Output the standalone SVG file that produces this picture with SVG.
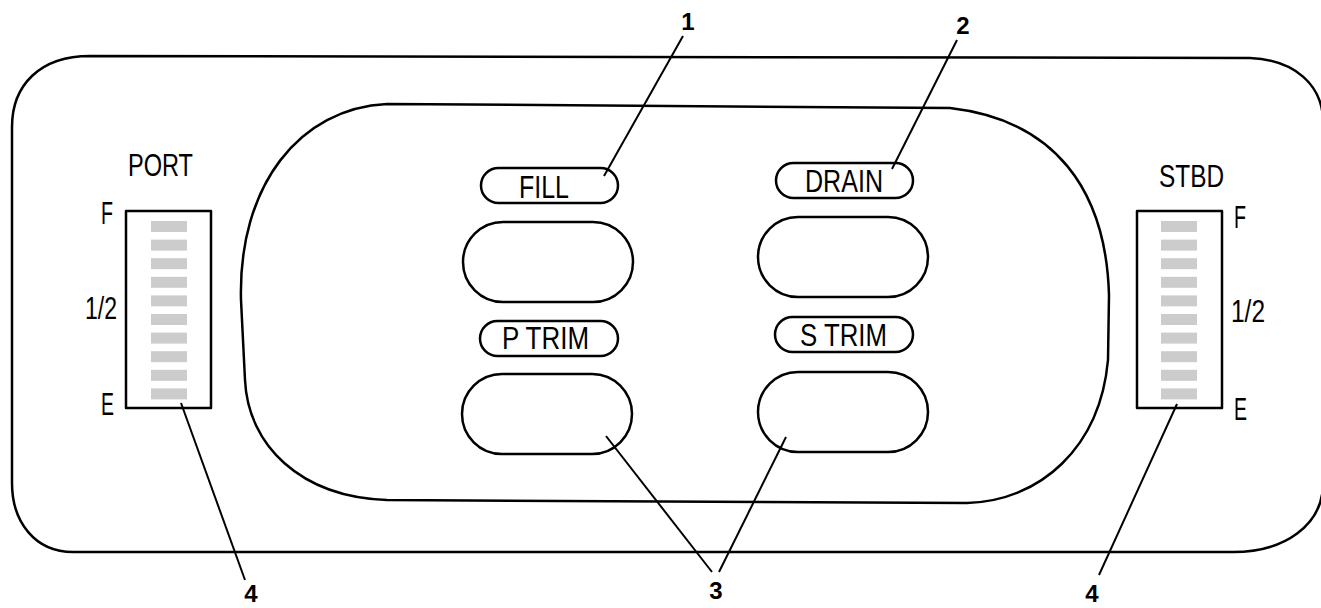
<svg xmlns="http://www.w3.org/2000/svg" width="1321" height="608" viewBox="0 0 1321 608">
<style>
.frame{fill:none;stroke:#000;stroke-width:2.5;stroke-linejoin:round}
.pill{fill:#fff;stroke:#000;stroke-width:2.5}
.lead{fill:none;stroke:#000;stroke-width:2}
.bar{fill:#cccccc}
.lbl{font-family:"Liberation Sans",Arial,sans-serif;font-size:32px;fill:#000}
.num{font-family:"Liberation Sans",Arial,sans-serif;font-size:24px;font-weight:bold;fill:#000;text-anchor:middle}
</style>
<rect width="1321" height="608" fill="#fff"/>
<g id="outer-frame">
<path class="frame" d="M90 56 L1250 58 C1295 60 1322 85 1323 120 L1323 485 C1322 525 1285 552 1233 552 L73 552 C35 552 12 522 12 483 L12 127 C12 85 40 56 90 56 Z"/>
</g>
<g id="inner-panel">
<path class="frame" d="M387 104 L950 108 C1055 120 1106 190 1109 295 L1108 360 C1100 448 1040 501 967 503 L387 500 C300 497 248 445 245 380 L241 300 C238 185 300 108 387 104 Z"/>
</g>
<g id="port-gauge">
<rect class="frame" x="126" y="211" width="85" height="197" fill="#fff"/>
<g class="bar">
<rect x="151" y="221" width="36" height="11"/>
<rect x="151" y="239.6" width="36" height="11"/>
<rect x="151" y="258.2" width="36" height="11"/>
<rect x="151" y="276.8" width="36" height="11"/>
<rect x="151" y="295.4" width="36" height="11"/>
<rect x="151" y="314" width="36" height="11"/>
<rect x="151" y="332.6" width="36" height="11"/>
<rect x="151" y="351.2" width="36" height="11"/>
<rect x="151" y="369.8" width="36" height="11"/>
<rect x="151" y="388.4" width="36" height="11"/>
</g>
<text class="lbl" x="128" y="176" textLength="65" lengthAdjust="spacingAndGlyphs">PORT</text>
<text class="lbl" x="101" y="224" textLength="12" lengthAdjust="spacingAndGlyphs">F</text>
<text class="lbl" x="85" y="319" textLength="32" lengthAdjust="spacingAndGlyphs">1/2</text>
<text class="lbl" x="101" y="415" textLength="13" lengthAdjust="spacingAndGlyphs">E</text>
</g>
<g id="stbd-gauge">
<rect class="frame" x="1137" y="211" width="85" height="197" fill="#fff"/>
<g class="bar">
<rect x="1161" y="221" width="36" height="11"/>
<rect x="1161" y="239.6" width="36" height="11"/>
<rect x="1161" y="258.2" width="36" height="11"/>
<rect x="1161" y="276.8" width="36" height="11"/>
<rect x="1161" y="295.4" width="36" height="11"/>
<rect x="1161" y="314" width="36" height="11"/>
<rect x="1161" y="332.6" width="36" height="11"/>
<rect x="1161" y="351.2" width="36" height="11"/>
<rect x="1161" y="369.8" width="36" height="11"/>
<rect x="1161" y="388.4" width="36" height="11"/>
</g>
<text class="lbl" x="1159" y="187" textLength="65" lengthAdjust="spacingAndGlyphs">STBD</text>
<text class="lbl" x="1234" y="228" textLength="12" lengthAdjust="spacingAndGlyphs">F</text>
<text class="lbl" x="1231" y="322" textLength="34" lengthAdjust="spacingAndGlyphs">1/2</text>
<text class="lbl" x="1234" y="420" textLength="13" lengthAdjust="spacingAndGlyphs">E</text>
</g>
<g id="fill-button">
<rect class="pill" x="481" y="168" width="137" height="35" rx="17.5"/>
<text class="lbl" x="519" y="198" textLength="50" lengthAdjust="spacingAndGlyphs">FILL</text>
</g>
<g id="fill-display">
<rect class="pill" x="463" y="222" width="170" height="80" rx="40"/>
</g>
<g id="ptrim-button">
<rect class="pill" x="480" y="321" width="138" height="35" rx="17.5"/>
<text class="lbl" x="502" y="349" textLength="87" lengthAdjust="spacingAndGlyphs">P TRIM</text>
</g>
<g id="ptrim-display">
<rect class="pill" x="462" y="374" width="170" height="80" rx="40"/>
</g>
<g id="drain-button">
<rect class="pill" x="776" y="163" width="137" height="35" rx="17.5"/>
<text class="lbl" x="805" y="192" textLength="78" lengthAdjust="spacingAndGlyphs">DRAIN</text>
</g>
<g id="drain-display">
<rect class="pill" x="758" y="217" width="170" height="80" rx="40"/>
</g>
<g id="strim-button">
<rect class="pill" x="775" y="317" width="138" height="35" rx="17.5"/>
<text class="lbl" x="800" y="346" textLength="87" lengthAdjust="spacingAndGlyphs">S TRIM</text>
</g>
<g id="strim-display">
<rect class="pill" x="758" y="372" width="170" height="80" rx="40"/>
</g>
<g id="connectors">
<line class="lead" x1="683" y1="36" x2="604" y2="176"/>
<line class="lead" x1="957" y1="40" x2="892" y2="169"/>
<line class="lead" x1="712" y1="572" x2="606" y2="436"/>
<line class="lead" x1="719" y1="572" x2="786" y2="437"/>
<line class="lead" x1="245" y1="580" x2="181" y2="403"/>
<line class="lead" x1="1099" y1="575" x2="1177" y2="404"/>
</g>
<g id="callouts">
<text class="num" x="688" y="30">1</text>
<text class="num" x="963" y="34">2</text>
<text class="num" x="716" y="599">3</text>
<text class="num" x="251" y="602">4</text>
<text class="num" x="1092" y="602">4</text>
</g>
</svg>
